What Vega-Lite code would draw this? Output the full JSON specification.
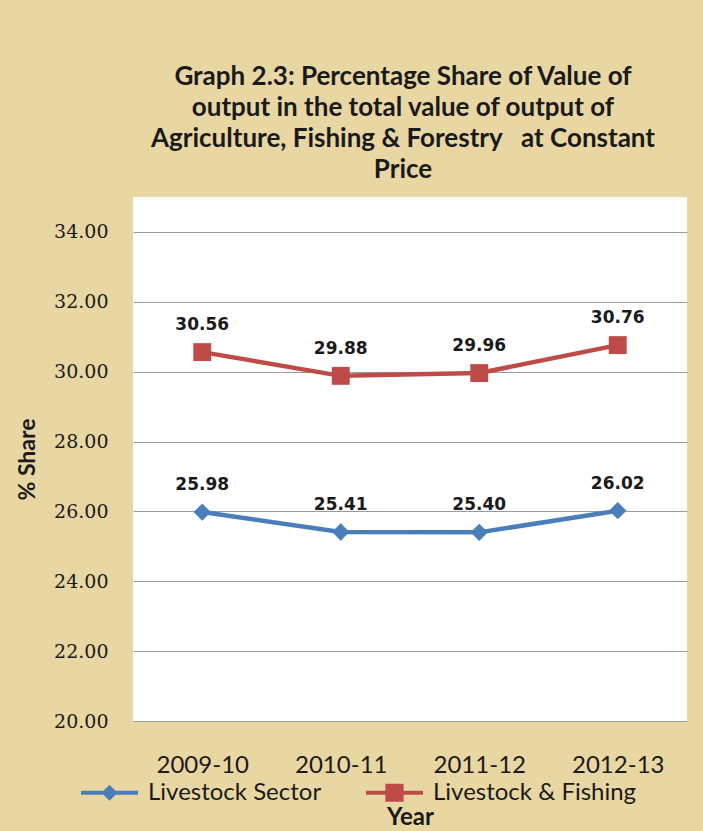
{
  "$schema": "https://vega.github.io/schema/vega-lite/v6.json",
  "width": 554,
  "height": 524,
  "autosize": "none",
  "padding": {"left": 133, "top": 197, "right": 16, "bottom": 110},
  "background": "#e9d7a3",
  "title": {
    "text": ["Graph 2.3: Percentage Share of Value of", "output in the total value of output of", "Agriculture, Fishing & Forestry\u00a0\u00a0 at Constant", "Price"],
    "font": "Lato",
    "fontSize": 26,
    "fontWeight": "bold",
    "color": "#1a1a1a",
    "lineHeight": 31,
    "anchor": "middle",
    "frame": "group",
    "dx": -7,
    "offset": 14
  },
  "config": {
    "view": {"fill": "#ffffff", "stroke": null},
    "axis": {"domain": false, "ticks": false}
  },
  "data": {
    "values": [
      {"year": "2009-10", "series": "Livestock Sector", "value": 25.98},
      {"year": "2010-11", "series": "Livestock Sector", "value": 25.41},
      {"year": "2011-12", "series": "Livestock Sector", "value": 25.40},
      {"year": "2012-13", "series": "Livestock Sector", "value": 26.02},
      {"year": "2009-10", "series": "Livestock & Fishing", "value": 30.56},
      {"year": "2010-11", "series": "Livestock & Fishing", "value": 29.88},
      {"year": "2011-12", "series": "Livestock & Fishing", "value": 29.96},
      {"year": "2012-13", "series": "Livestock & Fishing", "value": 30.76}
    ]
  },
  "encoding": {
    "x": {
      "field": "year",
      "type": "ordinal",
      "scale": {"type": "point", "padding": 0.5},
      "axis": {
        "title": "Year",
        "labelAngle": 0,
        "labelFont": "Lato",
        "labelFontSize": 24,
        "labelFontWeight": "normal",
        "labelColor": "#1a1a1a",
        "labelPadding": 32,
        "titleFont": "Lato",
        "titleFontSize": 24,
        "titleFontWeight": "bold",
        "titleColor": "#1a1a1a",
        "titlePadding": 28,
        "grid": false
      }
    },
    "y": {
      "field": "value",
      "type": "quantitative",
      "scale": {"domain": [20, 35], "nice": false, "zero": false},
      "axis": {
        "title": "% Share",
        "values": [20, 22, 24, 26, 28, 30, 32, 34],
        "format": ".2f",
        "labelFont": "DejaVu Serif",
        "labelFontSize": 19,
        "labelColor": "#1a1a1a",
        "labelPadding": 25,
        "titleFont": "Lato",
        "titleFontSize": 23,
        "titleFontWeight": "bold",
        "titleColor": "#1a1a1a",
        "titlePadding": 14,
        "grid": true,
        "gridColor": "#9a9a9a",
        "gridWidth": 1
      }
    }
  },
  "layer": [
    {
      "mark": {"type": "line", "strokeWidth": 4.5},
      "encoding": {
        "color": {
          "field": "series",
          "type": "nominal",
          "scale": {"domain": ["Livestock Sector", "Livestock & Fishing"], "range": ["#4a7ebb", "#be4b48"]}
        }
      }
    },
    {
      "transform": [{"filter": "datum.series === 'Livestock Sector'"}],
      "mark": {"type": "point", "shape": "diamond", "filled": true, "size": 300, "color": "#4a7ebb", "opacity": 1}
    },
    {
      "transform": [{"filter": "datum.series === 'Livestock & Fishing'"}],
      "mark": {"type": "point", "shape": "square", "filled": true, "size": 320, "color": "#be4b48", "opacity": 1}
    },
    {
      "mark": {"type": "text", "font": "DejaVu Sans", "fontSize": 17, "fontWeight": "bold", "color": "#1a1a1a", "dy": -27, "baseline": "middle"},
      "encoding": {"text": {"field": "value", "type": "quantitative", "format": ".2f"}}
    },
    {
      "mark": {"type": "point", "filled": true, "opacity": 0},
      "encoding": {
        "color": {"field": "series", "type": "nominal"},
        "shape": {
          "field": "series",
          "type": "nominal",
          "scale": {
            "domain": ["Livestock Sector", "Livestock & Fishing"],
            "range": [
              "M-1,-0.07H1V0.07H-1Z M0,-0.28L0.28,0L0,0.28L-0.28,0Z",
              "M-1,-0.07H1V0.07H-1Z M-0.32,-0.32H0.32V0.32H-0.32Z"
            ]
          },
          "legend": {
            "title": null,
            "orient": "none",
            "direction": "horizontal",
            "legendX": -52,
            "legendY": 567,
            "symbolSize": 3249,
            "symbolStrokeWidth": 0,
            "symbolOpacity": 1,
            "labelFont": "Lato",
            "labelFontSize": 24,
            "labelLimit": 0,
            "labelColor": "#1a1a1a",
            "labelOffset": 10,
            "columnPadding": 44
          }
        }
      }
    }
  ]
}
